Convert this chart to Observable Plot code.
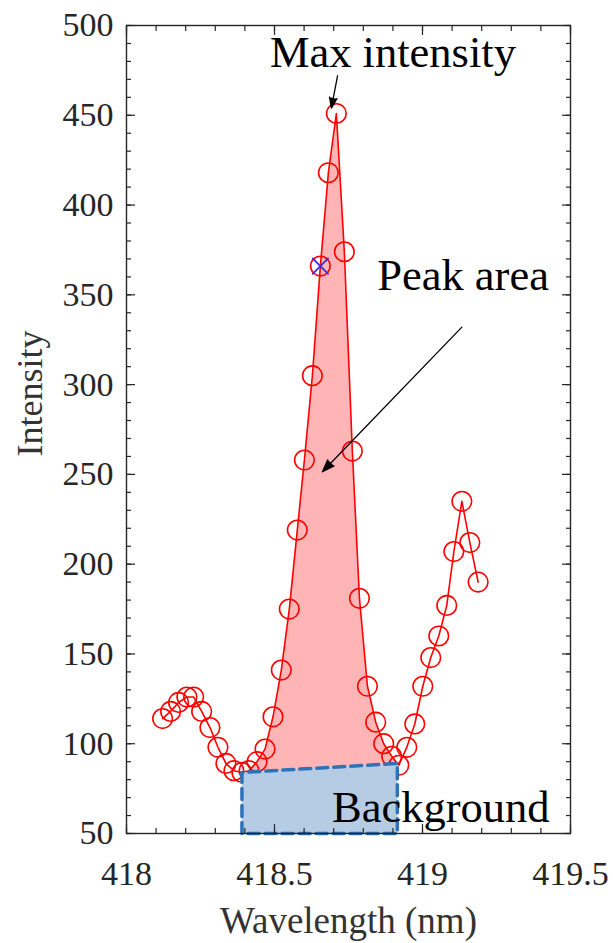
<!DOCTYPE html>
<html>
<head>
<meta charset="utf-8">
<script src="https://cdn.jsdelivr.net/npm/d3@7"></script>
<script src="https://cdn.jsdelivr.net/npm/@observablehq/plot@0.6"></script>
<style>
  body { margin: 0; background: #fff; }
</style>
</head>
<body>
<div id="chart"></div>
<script>
// Emission line near 419 nm: measured spectrum samples
const wavelength = [418.122, 418.149, 418.176, 418.204, 418.227, 418.254, 418.282, 418.309, 418.336, 418.363,
                    418.390, 418.414, 418.441, 418.468, 418.495, 418.523, 418.550, 418.577, 418.601, 418.628,
                    418.655, 418.682, 418.709, 418.736, 418.763, 418.787, 418.814, 418.842, 418.869, 418.896,
                    418.920, 418.947, 418.974, 419.001, 419.028, 419.055, 419.082, 419.106, 419.133, 419.160,
                    419.188];
const intensity = [114, 118, 123, 126, 126, 118, 109, 98, 89, 85,
                   84, 85, 90, 97, 115, 141, 175, 219, 258, 305,
                   366, 418, 451, 374, 263, 181, 132, 112, 100, 93,
                   88, 98, 111, 132, 148, 160, 177, 207, 235, 212,
                   190];

// Sample highlighted with a cross
const markedWavelength = [418.655];
const markedIntensity = [366];

// Linear background under the peak (start / end of the integration window)
const backgroundX = [418.390, 418.915];
const backgroundLevel = [84, 89];

// Axes
const xDomain = [418, 419.5];
const yDomain = [50, 500];
const xTickLabels = [418, 418.5, 419, 419.5];
const yTickLabels = [50, 100, 150, 200, 250, 300, 350, 400, 450, 500];

// Annotations
const noteText = ["Max intensity", "Peak area", "Background"];
const noteX = [418.90, 419.137, 419.062];
const noteY = [485, 360.5, 64.5];
const arrowFromX = [418.713, 419.133];
const arrowFromY = [472, 332];
const arrowToX = [418.692, 418.662];
const arrowToY = [454, 251.5];

// ---- derived tables ----
const spectrum = wavelength.map((x, i) => ({x, y: intensity[i]}));
const marked = markedWavelength.map((x, i) => ({x, y: markedIntensity[i]}));

// Peak region: bounded by the spectrum above and the background line below
const peakPolygon = [
  {x: backgroundX[0], y: backgroundLevel[0]},
  ...spectrum.filter(d => d.x > backgroundX[0] && d.x < backgroundX[1]),
  {x: backgroundX[1], y: backgroundLevel[1]}
];

// Background trapezoid down to the axis floor
const backgroundPolygon = [
  {x: backgroundX[0], y: yDomain[0]},
  {x: backgroundX[0], y: backgroundLevel[0]},
  {x: backgroundX[1], y: backgroundLevel[1]},
  {x: backgroundX[1], y: yDomain[0]},
  {x: backgroundX[0], y: yDomain[0]}
];

const notes = noteText.map((text, i) => ({text, x: noteX[i], y: noteY[i]}));
const arrows = arrowFromX.map((x1, i) => ({x1, y1: arrowFromY[i], x2: arrowToX[i], y2: arrowToY[i]}));

const xMinor = d3.ticks(xDomain[0], xDomain[1], 15);
const yMinor = d3.ticks(yDomain[0], yDomain[1], 45);

const ink = "#262626";
const tickOpts = {stroke: ink, strokeWidth: 1.2, tickFormat: () => "", label: null};

const chart = Plot.plot({
  width: 613,
  height: 943,
  marginTop: 25,
  marginBottom: 110,
  marginLeft: 126,
  marginRight: 43,
  x: {domain: xDomain, label: null},
  y: {domain: yDomain, label: null},
  style: {
    fontFamily: "'Liberation Serif', 'Times New Roman', serif",
    color: ink,
    background: "white"
  },
  marks: [
    // shaded peak area
    Plot.line(peakPolygon, {x: "x", y: "y", fill: "#ffb5b5", stroke: "none"}),
    // spectrum
    Plot.line(spectrum, {x: "x", y: "y", stroke: "#ff0000", strokeWidth: 1.6}),
    Plot.dot(spectrum, {x: "x", y: "y", r: 9.8, stroke: "#ff0000", strokeWidth: 1.6, fill: "none"}),
    Plot.dot(marked, {x: "x", y: "y", symbol: "times", r: 7.5, stroke: "#3b2bea", strokeWidth: 1.8}),
    // background region
    Plot.line(backgroundPolygon, {
      x: "x", y: "y", fill: "#b6cce5", stroke: "#2e72b8",
      strokeWidth: 3.5, strokeDasharray: "11,6"
    }),
    // box and inward ticks on all four sides
    Plot.frame({stroke: ink, strokeWidth: 1.4}),
    Plot.axisX({...tickOpts, anchor: "bottom", ticks: xMinor, tickSize: -5}),
    Plot.axisX({...tickOpts, anchor: "top", ticks: xMinor, tickSize: -5}),
    Plot.axisX({...tickOpts, anchor: "bottom", ticks: xTickLabels, tickSize: -9}),
    Plot.axisX({...tickOpts, anchor: "top", ticks: xTickLabels, tickSize: -9}),
    Plot.axisY({...tickOpts, anchor: "left", ticks: yMinor, tickSize: -5}),
    Plot.axisY({...tickOpts, anchor: "right", ticks: yMinor, tickSize: -5}),
    Plot.axisY({...tickOpts, anchor: "left", ticks: yTickLabels, tickSize: -9}),
    Plot.axisY({...tickOpts, anchor: "right", ticks: yTickLabels, tickSize: -9}),
    // tick labels
    Plot.axisX({anchor: "bottom", ticks: xTickLabels, tickSize: 0, tickPadding: 27,
                tickFormat: d => String(d), fontSize: 34, fill: ink, label: null}),
    Plot.axisY({anchor: "left", ticks: yTickLabels, tickSize: 0, tickPadding: 13,
                tickFormat: d => String(d), fontSize: 34, fill: ink, label: null}),
    // axis titles
    Plot.text(["Wavelength (nm)"], {text: d => d, frameAnchor: "bottom", lineAnchor: "middle",
                                   dy: 88, fontSize: 37, fill: "#333"}),
    Plot.text(["Intensity"], {text: d => d, frameAnchor: "left", textAnchor: "middle",
                             lineAnchor: "middle", rotate: -90, dx: -96, dy: -36,
                             fontSize: 36, fill: "#333"}),
    // annotations
    Plot.text(notes, {x: "x", y: "y", text: "text", fontSize: 44.5, fill: "black"}),
    Plot.arrow(arrows, {
      x1: "x1", y1: "y1", x2: "x2", y2: "y2",
      stroke: "black", fill: "black", strokeWidth: 1.3,
      headLength: 15, headAngle: 40
    })
  ]
});

document.getElementById("chart").append(chart);
</script>
</body>
</html>
